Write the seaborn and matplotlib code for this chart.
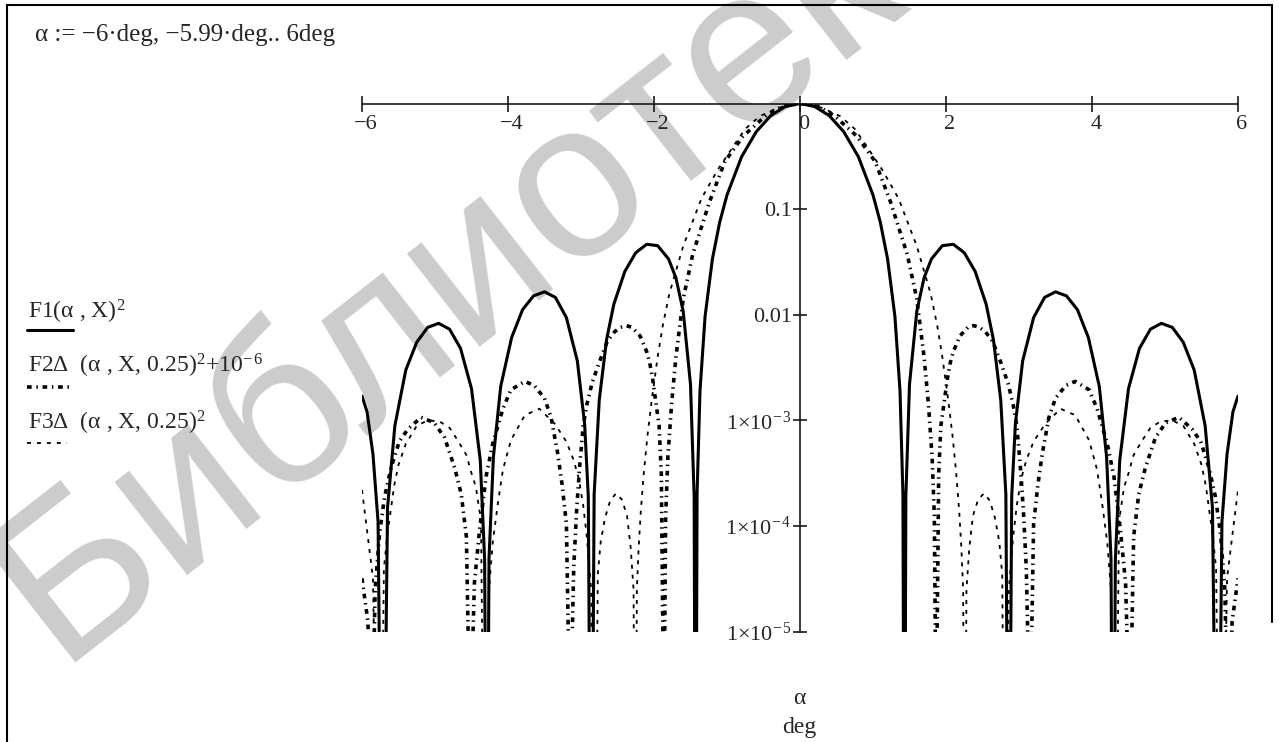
import matplotlib
matplotlib.use("Agg")
import matplotlib.pyplot as plt
from matplotlib.lines import Line2D
from matplotlib.ticker import FixedLocator, FixedFormatter, NullLocator
from matplotlib.transforms import ScaledTranslation
import pandas as pd
import seaborn as sns

# ---- data (right half, alpha >= 0; pattern symmetric about 0) ----
f1_alpha = [0, 0.2, 0.4, 0.6, 0.8, 1.0, 1.1, 1.2, 1.3, 1.37, 1.41, 1.43, 1.45, 1.5, 1.6, 1.7,
            1.8, 1.95, 2.1, 2.25, 2.4, 2.55, 2.65, 2.75, 2.82, 2.86, 2.9, 2.95, 3.05, 3.2,
            3.35, 3.5, 3.65, 3.8, 3.95, 4.1, 4.2, 4.26, 4.29, 4.32, 4.38, 4.5, 4.65, 4.8,
            4.95, 5.1, 5.25, 5.4, 5.55, 5.65, 5.72, 5.78, 5.85, 5.93, 6.0]
f1_value = [1, 0.937, 0.768, 0.540, 0.313, 0.136, 0.0753, 0.0337, 0.0097, 1.9e-3, 2.0e-4, 1e-8,
            1.9e-4, 2.2e-3, 0.0108, 0.0224, 0.0337, 0.0451, 0.0465, 0.0387, 0.0257, 0.0126,
            5.8e-3, 1.56e-3, 2.0e-4, 1e-8, 1.9e-4, 9.2e-4, 3.65e-3, 9.4e-3, 0.0146, 0.0165,
            0.0151, 0.0112, 6.1e-3, 2.1e-3, 4.5e-4, 5e-5, 1e-8, 4.8e-5, 4.2e-4, 2.0e-3, 4.8e-3,
            7.3e-3, 8.3e-3, 7.6e-3, 5.5e-3, 3.0e-3, 8.9e-4, 1.5e-4, 1e-8, 1.1e-4, 4.8e-4,
            1.2e-3, 1.7e-3]

f2_alpha = [0, 0.25, 0.46, 0.78, 1.03, 1.24, 1.47, 1.60, 1.70, 1.76, 1.81, 1.84, 1.865, 1.90,
            1.93, 1.97, 2.02, 2.06, 2.10, 2.19, 2.30, 2.38, 2.46, 2.54, 2.64, 2.75, 2.85, 2.92,
            2.97, 3.02, 3.06, 3.10, 3.15, 3.20, 3.26, 3.32, 3.41, 3.50, 3.64, 3.77, 3.96, 4.07,
            4.21, 4.30, 4.39, 4.46, 4.52, 4.57, 4.64, 4.73, 4.87, 5.01, 5.19, 5.37, 5.49, 5.60,
            5.69, 5.76, 5.82, 5.86, 5.92, 6.0]
f2_value = [1, 0.933, 0.776, 0.490, 0.282, 0.117, 0.0372, 0.0141, 3.98e-3, 1.41e-3, 4.47e-4,
            1.26e-4, 1e-6, 3.16e-4, 8.9e-4, 1.41e-3, 2.51e-3, 3.55e-3, 4.47e-3, 6.3e-3, 7.6e-3,
            7.9e-3, 7.6e-3, 6.9e-3, 5.6e-3, 3.55e-3, 2.24e-3, 1.41e-3, 8.9e-4, 3.55e-4, 1.41e-4,
            4.0e-5, 1e-6, 1.05e-4, 2.5e-4, 4.9e-4, 1.07e-3, 1.62e-3, 2.14e-3, 2.34e-3, 1.95e-3,
            1.29e-3, 6.0e-4, 2.95e-4, 9.1e-5, 2.9e-5, 1e-6, 7.9e-5, 2.0e-4, 3.55e-4, 6.9e-4,
            9.5e-4, 1.07e-3, 8.3e-4, 6.3e-4, 3.6e-4, 1.9e-4, 8.5e-5, 2.5e-5, 1e-6, 1.26e-5, 3.2e-5]

f3_alpha = [0, 0.3, 0.55, 0.75, 0.87, 1.13, 1.35, 1.6, 1.79, 1.88, 1.95, 2.03, 2.09, 2.14, 2.18,
            2.21, 2.235, 2.255, 2.28, 2.32, 2.37, 2.44, 2.52, 2.60, 2.67, 2.73, 2.77, 2.81, 2.86,
            2.92, 2.97, 3.03, 3.10, 3.20, 3.36, 3.57, 3.77, 3.96, 4.07, 4.14, 4.21, 4.26, 4.31,
            4.37, 4.44, 4.50, 4.57, 4.69, 4.80, 4.94, 5.10, 5.25, 5.40, 5.50, 5.56, 5.60, 5.65,
            5.70, 5.76, 5.85, 5.92, 6.0]
f3_value = [1, 0.912, 0.759, 0.575, 0.437, 0.234, 0.126, 0.0447, 0.0158, 7.9e-3, 3.98e-3, 1.58e-3,
            7.1e-4, 3.16e-4, 1.41e-4, 6.3e-5, 2.5e-5, 1e-8, 2.5e-5, 6.3e-5, 1.26e-4, 1.78e-4,
            2.04e-4, 1.74e-4, 1.2e-4, 7.1e-5, 3.5e-5, 1e-8, 2.5e-5, 7.9e-5, 1.58e-4, 2.8e-4,
            4.2e-4, 6.3e-4, 9.3e-4, 1.29e-3, 1.12e-3, 6.5e-4, 3.4e-4, 1.62e-4, 6.9e-5, 2.5e-5,
            1e-8, 1.12e-4, 2.34e-4, 3.16e-4, 4.7e-4, 6.5e-4, 8.5e-4, 9.8e-4, 1.0e-3, 8.9e-4,
            6.0e-4, 3.8e-4, 2.4e-4, 1.51e-4, 8.5e-5, 4.0e-5, 1e-8, 3.2e-5, 7.9e-5, 2.2e-4]

x_ticks = [-6, -4, -2, 0, 2, 4, 6]
x_tick_labels = ["\u22126", "\u22124", "\u22122", "0", "2", "4", "6"]
y_ticks = [1e-5, 1e-4, 1e-3, 1e-2, 1e-1, 1]
y_tick_labels = ["1\u00d710$^{\u2212\\,5}$", "1\u00d710$^{\u2212\\,4}$", "1\u00d710$^{\u2212\\,3}$",
                 "0.01", "0.1", ""]
legend_labels = ["F1(\u03b1 , X)$^{2}$",
                 "F2\u0394  (\u03b1 , X, 0.25)$^{2}$+10$^{\u2212\\,6}$",
                 "F3\u0394  (\u03b1 , X, 0.25)$^{2}$"]
range_text = "\u03b1 := \u22126\u00b7deg, \u22125.99\u00b7deg.. 6deg"
watermark = "Библиотека"

# ---- style ----
sns.set_style("white")
plt.rcParams["font.family"] = ["Liberation Serif", "DejaVu Serif"]
plt.rcParams["mathtext.fontset"] = "custom"
plt.rcParams["mathtext.rm"] = "Liberation Serif"
plt.rcParams["mathtext.it"] = "Liberation Serif:italic"
plt.rcParams["mathtext.bf"] = "Liberation Serif:bold"

FS_TICK = 16
FS_TEXT = 17
W, H = 1279, 742


def mirrored(alpha, value):
    a = [-x for x in reversed(alpha[1:])] + list(alpha)
    v = list(reversed(value[1:])) + list(value)
    return pd.DataFrame({"alpha": a, "value": v})


fig = plt.figure(figsize=(W / 100, H / 100), dpi=100)
fig.patch.set_facecolor("white")

# watermark (behind everything)
fig.text(58 / W, 1 - 662 / H, watermark, fontsize=160, rotation=38,
         color="#cccccc", family="Liberation Sans", ha="left", va="baseline",
         rotation_mode="anchor", zorder=-5)

ax_l, ax_r, ax_t, ax_b = 362, 1238, 103.5, 631.7
ax = fig.add_axes([ax_l / W, 1 - ax_b / H, (ax_r - ax_l) / W, (ax_b - ax_t) / H])
ax.patch.set_alpha(0)
ax.set_yscale("log")

styles = [
    (f1_alpha, f1_value, dict(linewidth=2.2, linestyle="-")),
    (f2_alpha, f2_value, dict(linewidth=2.6, linestyle=(0, (1.3, 1.3, 0.4, 1.3)))),
    (f3_alpha, f3_value, dict(linewidth=1.3, linestyle=(0, (2.2, 3.3)))),
]
for a, v, kw in styles:
    sns.lineplot(data=mirrored(a, v), x="alpha", y="value", ax=ax, color="black",
                 sort=False, estimator=None, **kw)

ax.set_xlim(-6, 6)
ax.set_ylim(1e-5, 1)
ax.set_xlabel("")
ax.set_ylabel("")

for s in ["top", "right"]:
    ax.spines[s].set_visible(False)
ax.spines["bottom"].set_position(("data", 1))
ax.spines["left"].set_position(("data", 0))
for s in ["bottom", "left"]:
    ax.spines[s].set_color("#1a1a1a")
    ax.spines[s].set_linewidth(1.2)
    ax.spines[s].set_zorder(1)

ax.xaxis.set_major_locator(FixedLocator(x_ticks))
ax.xaxis.set_major_formatter(FixedFormatter(x_tick_labels))
ax.yaxis.set_major_locator(FixedLocator(y_ticks))
ax.yaxis.set_major_formatter(FixedFormatter(y_tick_labels))
ax.yaxis.set_minor_locator(NullLocator())
ax.xaxis.set_minor_locator(NullLocator())
ax.tick_params(axis="x", direction="inout", length=12, width=1.2, color="#1a1a1a",
               labelsize=FS_TICK, pad=2, bottom=True, top=False)
ax.tick_params(axis="y", direction="inout", length=10, width=1.2, color="#1a1a1a",
               labelsize=FS_TICK, pad=1, left=True, right=False)
ax.grid(False)
shift = ScaledTranslation(4 / 100, 0, fig.dpi_scale_trans)
for lab in ax.xaxis.get_majorticklabels():
    lab.set_transform(lab.get_transform() + shift)

# expression at the top left
fig.text(35 / W, 1 - 41 / H, range_text, fontsize=18, ha="left", va="baseline")

# legend (Mathcad style: expression with line sample beneath)
leg_text_y = [319, 373, 430]
leg_line_y = [330, 387, 443]
leg_line_x1 = [73, 73, 67]
for lbl, ty, ly, x1, (_, _, kw) in zip(legend_labels, leg_text_y, leg_line_y, leg_line_x1, styles):
    fig.text(28 / W, 1 - ty / H, lbl, fontsize=FS_TEXT, ha="left", va="baseline")
    fig.add_artist(Line2D([27 / W, x1 / W], [1 - ly / H, 1 - ly / H],
                          transform=fig.transFigure, color="black", **kw))

# axis labels under the plot
fig.text(799.5 / W, 1 - 698 / H, "\u03b1", fontsize=FS_TEXT, ha="center", va="center")
fig.text(799.5 / W, 1 - 728 / H, "deg", fontsize=FS_TEXT, ha="center", va="center")

# region frame
frame_kw = dict(transform=fig.transFigure, color="black", linewidth=1.5)
fig.add_artist(Line2D([7 / W, 1272 / W], [1 - 5 / H, 1 - 5 / H], **frame_kw))
fig.add_artist(Line2D([7 / W, 7 / W], [1 - 5 / H, 0], **frame_kw))
fig.add_artist(Line2D([1272 / W, 1272 / W], [1 - 5 / H, 1 - 622 / H], **frame_kw))

fig.savefig("out.png", dpi=100)
